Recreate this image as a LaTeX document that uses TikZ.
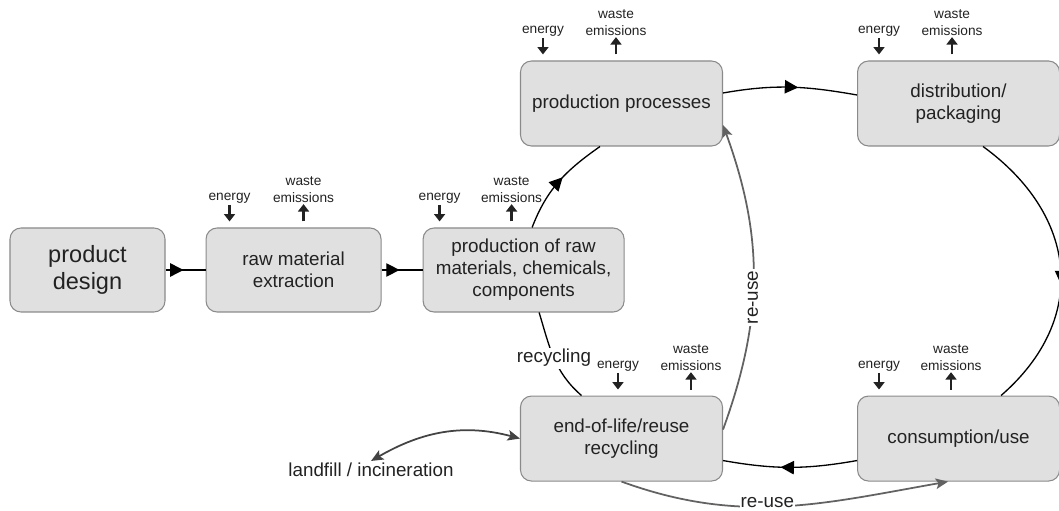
\documentclass[tikz,border=0pt]{standalone}
\usepackage{fontspec}
\setmainfont{Liberation Sans}
\usetikzlibrary{positioning,arrows.meta,decorations.markings}
\definecolor{boxfill}{HTML}{E0E0E0}
\definecolor{boxline}{HTML}{8A8A8A}
\definecolor{reusegray}{HTML}{626262}
\definecolor{ink}{HTML}{222222}

\tikzset{
  stage/.style={draw=boxline, fill=boxfill, line width=0.6pt, rounded corners=0.22cm,
    minimum width=4.04cm, minimum height=1.7cm, align=center, text=ink,
    font=\fontsize{10.7}{12.5}\selectfont},
  sidetext/.style={inner sep=1pt, align=center, text=ink, font=\fontsize{10.7}{12.5}\selectfont},
  flowtext/.style={inner sep=0.5pt, align=center, text=ink, font=\fontsize{7.8}{9.6}\selectfont},
  flowarrow/.style={draw=ink, line width=1.3pt, -{Triangle[length=4.2pt,width=6.2pt]}},
  cycleflow/.style={draw=black, line width=0.75pt, postaction={decorate},
    decoration={markings, mark=at position #1 with {\arrow{Triangle[length=7.6pt,width=7.6pt]}}}},
  plainflow/.style={draw=black, line width=0.75pt},
  reuseflow/.style={draw=reusegray, line width=1pt, -{Stealth[length=7pt,width=6pt,inset=1.5pt]}}
}

\newcommand{\flows}[3]{%
  \node[flowtext] (#1-en) at ([shift={(#2,0.58)}]#1.north west) {energy};
  \node[flowtext] (#1-ws) at ([shift={(#3,0.75)}]#1.north west) {waste\\emissions};
  \draw[flowarrow, shorten >=0.12cm] (#1-en.south) -- (#1-en.south |- #1.north);
  \draw[flowarrow, shorten <=0.12cm] (#1-ws.south |- #1.north) -- (#1-ws.south);
}

\begin{document}
\begin{tikzpicture}[node distance=1cm]
  \useasboundingbox (0,0) rectangle (21.18,10.22);
  \node[stage, minimum width=3.1cm, minimum height=1.68cm, font=\fontsize{13.4}{15.3}\selectfont] (design) at (1.75,4.82) {product\\design};
  \node[stage, minimum width=3.5cm, minimum height=1.68cm] (raw) [right=0.8cm of design] {raw material\\extraction};
  \node[stage, minimum width=4.02cm, minimum height=1.68cm] (prodraw) [right=0.82cm of raw] {production of raw\\materials, chemicals,\\components};
  \node[stage] (proc) at (12.43,8.15) {production processes};
  \node[stage] (dist) [right=2.68cm of proc] {distribution/\\packaging};
  \node[stage] (eol) [below=4.98cm of proc] {end-of-life/reuse\\recycling};
  \node[stage] (cons) [right=2.68cm of eol] {consumption/use};
  \node[sidetext] (landfill) at (7.42,0.82) {landfill / incineration};

  \flows{raw}{0.48}{1.96}
  \flows{prodraw}{0.34}{1.78}
  \flows{proc}{0.46}{1.92}
  \flows{dist}{0.44}{1.90}
  \flows{eol}{1.96}{3.42}
  \flows{cons}{0.44}{1.88}

  \draw[cycleflow=0.45] (design) -- (raw);
  \draw[cycleflow=0.44] (raw) -- (prodraw);
  \draw[cycleflow=0.55] ([xshift=0.17cm]prodraw.north) to[out=69,in=215] ([xshift=-0.43cm]proc.south);
  \draw[cycleflow=0.56] ([yshift=0.21cm]proc.east) to[out=10,in=170] ([yshift=0.17cm]dist.west);
  \draw[cycleflow=0.56] ([xshift=0.49cm]dist.south) to[out=-36,in=41,looseness=1.2] ([xshift=0.85cm]cons.north);
  \draw[cycleflow=0.57] ([yshift=-0.44cm]cons.west) to[out=190,in=-10] ([yshift=-0.44cm]eol.east);
  \draw[plainflow] ([xshift=-0.8cm]eol.north) to[out=139,in=-73] node[sidetext, fill=white] {recycling} ([xshift=0.31cm]prodraw.south);
  \draw[reuseflow] ([yshift=0.18cm]eol.east) to[out=70,in=-70] node[sidetext, fill=white, rotate=90, pos=0.43] {re-use} ([yshift=-0.43cm]proc.east);
  \draw[reuseflow] (eol.south) to[out=-20,in=190] node[sidetext, fill=white, inner sep=0.5pt, pos=0.45, yshift=2.5pt] {re-use} ([xshift=-0.21cm]cons.south);
  \draw[reuseflow, draw=ink!85, {Stealth[length=7pt,width=6pt,inset=1.5pt]}-{Stealth[length=7pt,width=6pt,inset=1.5pt]}] (landfill.north) to[out=30,in=165] (eol.west);
\end{tikzpicture}
\end{document}
